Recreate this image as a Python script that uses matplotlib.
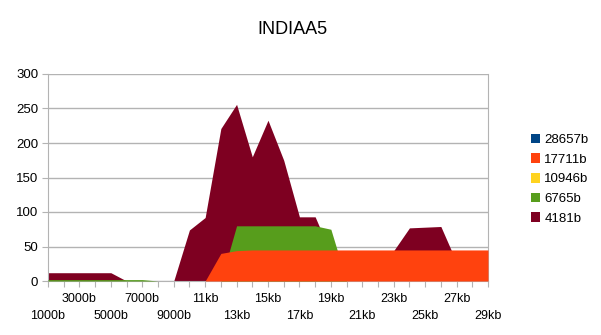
import numpy as np
import matplotlib
matplotlib.use("Agg")
import matplotlib.pyplot as plt
from matplotlib.patches import Patch

plt.rcParams['font.family'] = ['Liberation Sans', 'DejaVu Sans']

# categories: 1000b ... 9000b, 10kb ... 29kb
categories = [f"{k}000b" for k in range(1, 10)] + [f"{k}kb" for k in range(10, 30)]

s4181 = [12, 12, 12, 12, 12, 0, 0, 0, 0, 74, 92, 221, 256, 180, 233, 175, 93, 93,
         40, 35, 30, 35, 44, 77, 78, 79, 27, 20, 15]
s6765 = [2, 2, 2, 2, 2, 2, 2, 0, 0, 0, 0, 0, 80, 80, 80, 80, 80, 80,
         75, 0, 0, 0, 0, 0, 0, 0, 0, 0, 0]
s10946 = [0] * 29
s17711 = [0, 0, 0, 0, 0, 0, 0, 0, 0, 0, 0, 40, 44, 45, 45, 45, 45, 45,
          45, 45, 45, 45, 45, 45, 45, 45, 45, 45, 45]
s28657 = [0] * 29

names = ["28657b", "17711b", "10946b", "6765b", "4181b"]
colors = ["#004586", "#ff420e", "#ffd320", "#579d1c", "#7e0021"]
series = [s28657, s17711, s10946, s6765, s4181]

fig = plt.figure(figsize=(6.01, 3.35), dpi=100)
ax = fig.add_axes([48 / 601, 54 / 335, 440 / 601, 207 / 335])

x = np.arange(len(categories))
# back to front: last series drawn first
for z, (vals, c) in enumerate(zip(reversed(series), reversed(colors))):
    ax.fill_between(x, 0, vals, color=c, linewidth=0, zorder=2 + z)

ax.set_xlim(0, len(categories) - 1)
ax.set_ylim(0, 300)
ax.set_yticks(range(0, 301, 50))
ax.yaxis.grid(True, color="#b3b3b3", linewidth=1, zorder=0)
ax.set_axisbelow(True)
for side in ["left", "right", "bottom"]:
    ax.spines[side].set_color("#b3b3b3")
ax.spines["top"].set_visible(False)
ax.tick_params(axis="y", length=4, color="#b3b3b3", labelsize=9.5, pad=3)
ax.set_xticks(x)
ax.set_xticklabels([""] * len(x))
ax.tick_params(axis="x", length=4, color="#b3b3b3")

# staggered category labels, every second category
for i in range(0, len(categories), 2):
    yy = -0.087 if i % 4 == 2 else -0.169
    ax.text(i, yy, categories[i], transform=ax.get_xaxis_transform(),
            ha="center", va="center", fontsize=9)

fig.text(292 / 601, 1 - 30 / 335, "INDIAA5", ha="center", va="center", fontsize=13)

handles = [Patch(facecolor=c, edgecolor="none") for c in colors]
fig.legend(handles, names, loc="upper left", bbox_to_anchor=(524 / 601, 1 - 127 / 335),
           frameon=False, fontsize=9.5, handlelength=0.75, handleheight=0.75,
           handletextpad=0.3, labelspacing=0.55, borderpad=0)

fig.savefig("out.png", dpi=100)
